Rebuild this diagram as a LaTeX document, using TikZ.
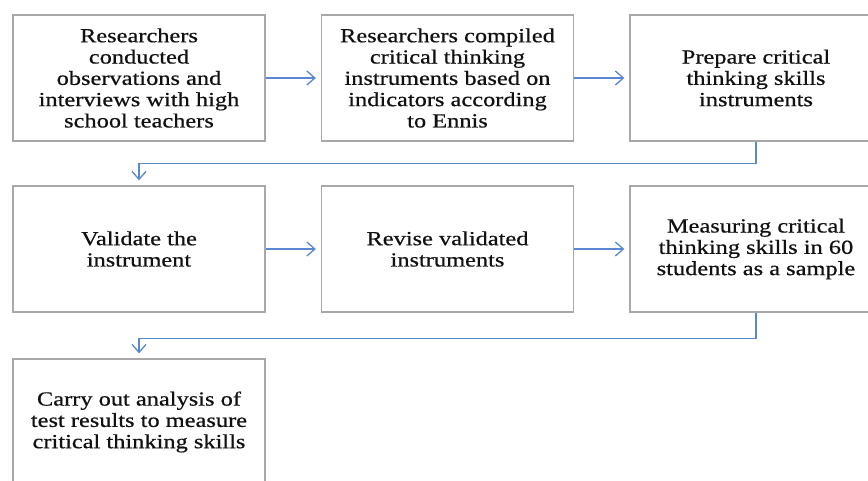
\documentclass[tikz,border=0pt]{standalone}
\usepackage{fontspec}
\setmainfont{Liberation Serif}[FakeStretch=1.22,FakeBold=0.6]
\usetikzlibrary{arrows.meta}
\definecolor{conblue}{HTML}{5A87D2}
\definecolor{boxgray}{HTML}{A8A8A8}
\definecolor{txt}{HTML}{111111}
\begin{document}
\begin{tikzpicture}[x=1pt,y=-1pt,
  stepbox/.style={draw=boxgray,line width=1.3pt,minimum width=252pt,minimum height=126pt,
    inner sep=0pt,align=center,text=txt,font=\fontsize{20}{21.3}\selectfont},
  arr/.style={draw=conblue,line width=1.3pt,-{Straight Barb[length=8pt,width=14pt,line width=1.3pt]},shorten >=5pt}]
\useasboundingbox (0,0) rectangle (868,480);
\begin{scope}
\clip (0,0) rectangle (868,480);
\node[stepbox] (b1) at (139,78) {Researchers\\conducted\\observations and\\interviews with high\\school teachers};
\node[stepbox] (b2) at (447.5,78) {Researchers compiled\\critical thinking\\instruments based on\\indicators according\\to Ennis};
\node[stepbox] (b3) at (756,78) {Prepare critical\\thinking skills\\instruments};
\node[stepbox] (b4) at (139,249) {Validate the\\instrument};
\node[stepbox] (b5) at (447.5,249) {Revise validated\\instruments};
\node[stepbox] (b6) at (756,249) {Measuring critical\\thinking skills in 60\\students as a sample};
\node[stepbox] (b7) at (139,422) {Carry out analysis of\\test results to measure\\critical thinking skills};
\draw[arr] (b1.east) -- (b2.west);
\draw[arr] (b2.east) -- (b3.west);
\draw[arr] (b3.south) -- ++(0,22) -| (b4.north);
\draw[arr] (b4.east) -- (b5.west);
\draw[arr] (b5.east) -- (b6.west);
\draw[arr] (b6.south) -- ++(0,26) -| (b7.north);
\end{scope}
\end{tikzpicture}
\end{document}
